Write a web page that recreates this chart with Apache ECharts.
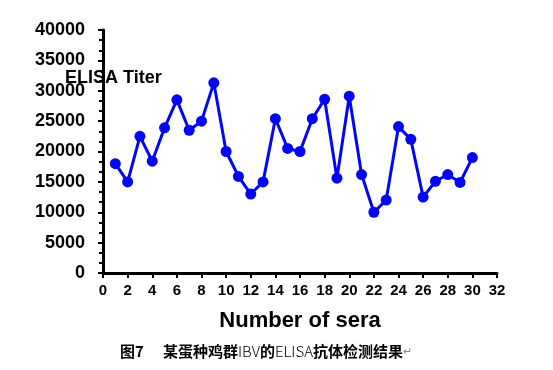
<!DOCTYPE html>
<html>
<head>
<meta charset="utf-8">
<script src="https://cdn.jsdelivr.net/npm/echarts@6/dist/echarts.min.js"></script>
<style>html,body{margin:0;padding:0;background:#fff}#c{width:553px;height:370px}</style>
</head>
<body>
<div id="c"></div>
<script>
const seraNumbers = [1,2,3,4,5,6,7,8,9,10,11,12,13,14,15,16,17,18,19,20,21,22,23,24,25,26,27,28,29,30];
const titerValues = [18000,15000,22500,18400,23900,28500,23500,25000,31300,20000,15900,13000,15000,25400,20500,20000,25400,28600,15600,29100,16200,10000,12000,24100,22000,12500,15100,16200,14900,19000];
const yAxisName = 'ELISA Titer';
const xAxisName = 'Number of sera';

const chart = echarts.init(document.getElementById('c'), null, {renderer: 'canvas'});
const seriesData = seraNumbers.map((x, i) => [x, titerValues[i]]);
chart.setOption({
  animation: false,
  backgroundColor: '#fff',
  grid: {left: 103, right: 56, top: 30, bottom: 97, containLabel: false},
  title: [{
    text: yAxisName, left: 60, top: 64,
    textStyle: {fontFamily: 'Liberation Sans, Arial', fontWeight: 'bold', fontSize: 18, color: '#000'}
  }],
  xAxis: {
    type: 'value', min: 0, max: 32, interval: 2,
    name: xAxisName, nameLocation: 'middle', nameGap: 37,
    nameTextStyle: {fontFamily: 'Liberation Sans, Arial', fontWeight: 'bold', fontSize: 22, color: '#000'},
    axisLine: {show: true, lineStyle: {color: '#000', width: 3}},
    axisTick: {show: true, length: 5, lineStyle: {color: '#000', width: 2}},
    axisLabel: {color: '#000', fontFamily: 'Liberation Sans, Arial', fontWeight: 'bold', fontSize: 15, margin: 10},
    splitLine: {show: false}
  },
  yAxis: {
    type: 'value', min: 0, max: 40000, interval: 5000,
    axisLine: {show: true, lineStyle: {color: '#000', width: 3}},
    axisTick: {show: true, length: 5, lineStyle: {color: '#000', width: 2}},
    minorTick: {show: true, splitNumber: 3, length: 4, lineStyle: {color: '#000', width: 2}},
    axisLabel: {color: '#000', fontFamily: 'Liberation Sans, Arial', fontWeight: 'bold', fontSize: 18, margin: 18,
      formatter: v => String(v)},
    splitLine: {show: false}
  },
  graphic: [{
    type: 'text', left: 120, top: 344,
    style: {
      text: '{b|图7}{g|　 }{b|某蛋种鸡群}{n|IBV}{b|的}{n|ELISA}{b|抗体检测结果}{m|↵}',
      rich: {
        b: {fontFamily: 'Noto Sans CJK SC', fontWeight: 'bold', fontSize: 15, fill: '#000'},
        g: {fontSize: 15},
        n: {fontFamily: 'Noto Sans CJK SC', fontWeight: 300, fontSize: 15, fill: '#000'},
        m: {fontSize: 11, fill: '#888'}
      }
    }
  }],
  series: [{
    type: 'line', data: seriesData,
    symbol: 'circle', symbolSize: 11,
    lineStyle: {color: '#0505f5', width: 3},
    itemStyle: {color: '#0505f5'}
  }]
});
</script>
</body>
</html>
